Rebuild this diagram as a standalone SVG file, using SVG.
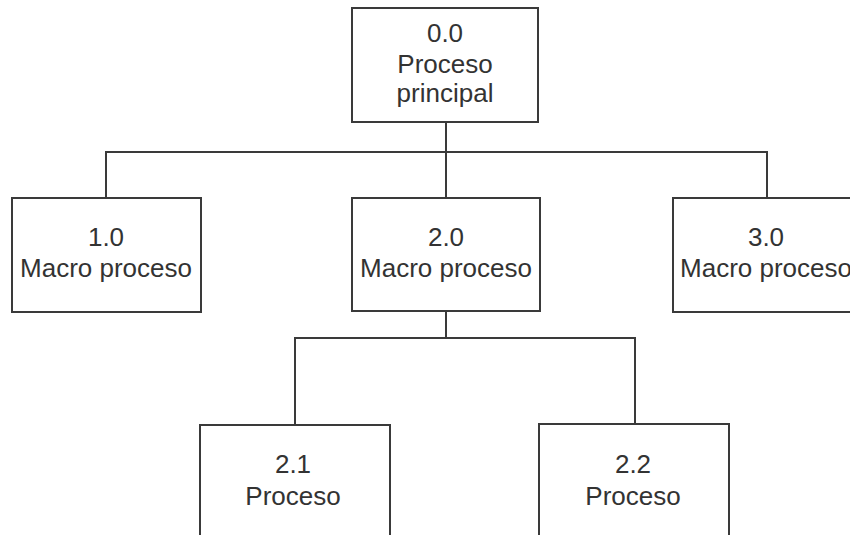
<svg xmlns="http://www.w3.org/2000/svg" width="850" height="535" viewBox="0 0 850 535">
  <style>
    .box { fill: #ffffff; stroke: #3a3a3a; stroke-width: 2; }
    .wire { fill: none; stroke: #3a3a3a; stroke-width: 2; }
    .label { font-family: "Liberation Sans", Arial, sans-serif; font-size: 26px; fill: #333333; text-anchor: middle; }
  </style>
  <rect width="850" height="535" fill="#ffffff"/>

  <!-- hierarchy connectors -->
  <g id="connectors">
    <path class="wire" d="M446 122 V152"/>
    <path class="wire" d="M106 198 V152 H767 V198"/>
    <path class="wire" d="M446 152 V198"/>
    <path class="wire" d="M446 311 V338"/>
    <path class="wire" d="M295 425 V338 H635 V424"/>
  </g>

  <g id="node-0-0">
    <rect class="box" x="352" y="8" width="186" height="114"/>
    <text class="label" x="445" y="42">0.0</text>
    <text class="label" x="445" y="73">Proceso</text>
    <text class="label" x="445" y="102">principal</text>
  </g>

  <g id="node-1-0">
    <rect class="box" x="12" y="198" width="189" height="114"/>
    <text class="label" x="106" y="246">1.0</text>
    <text class="label" x="106" y="277">Macro proceso</text>
  </g>

  <g id="node-2-0">
    <rect class="box" x="352" y="198" width="188" height="113"/>
    <text class="label" x="446" y="246">2.0</text>
    <text class="label" x="446" y="277">Macro proceso</text>
  </g>

  <g id="node-3-0">
    <rect class="box" x="673" y="198" width="190" height="114"/>
    <text class="label" x="766" y="246">3.0</text>
    <text class="label" x="766" y="277">Macro proceso</text>
  </g>

  <g id="node-2-1">
    <rect class="box" x="200" y="425" width="190" height="130"/>
    <text class="label" x="293" y="473">2.1</text>
    <text class="label" x="293" y="505">Proceso</text>
  </g>

  <g id="node-2-2">
    <rect class="box" x="539" y="424" width="190" height="130"/>
    <text class="label" x="633" y="473">2.2</text>
    <text class="label" x="633" y="505">Proceso</text>
  </g>
</svg>
